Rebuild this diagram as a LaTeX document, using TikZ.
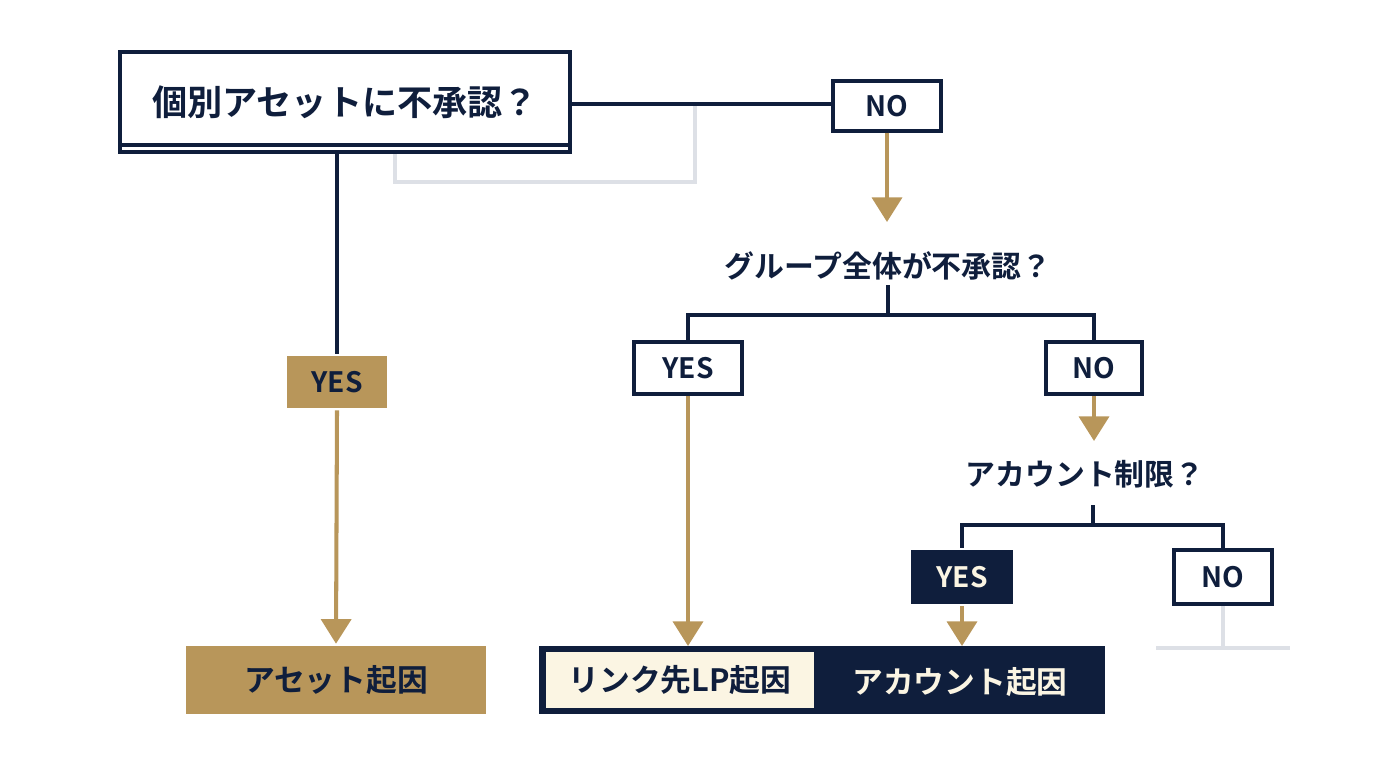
\documentclass[tikz,border=0pt]{standalone}
\usepackage{fontspec}
\setmainfont{Noto Sans CJK JP Bold}
\usetikzlibrary{arrows.meta}
\definecolor{navy}{HTML}{0F1E3C}
\definecolor{gold}{HTML}{B8965A}
\definecolor{cream}{HTML}{FBF5E3}
\definecolor{lgray}{HTML}{DDE0E6}
\begin{document}
\begin{tikzpicture}[x=0.02cm,y=-0.02cm,
	line width=2.3pt,
	tree/.style={draw=navy},
	flow/.style={draw=gold,-{Triangle[width=17pt,length=14pt]}},
	ghost/.style={draw=lgray},
	lbl/.style={inner sep=0,font=\fontsize{16}{16}\selectfont,text=navy},
	outbox/.style={lbl,draw=navy,fill=white,minimum height=28pt},
	question/.style={inner sep=0,font=\fontsize{17}{17}\selectfont,text=navy},
	result/.style={font=\fontsize{17.5}{17.5}\selectfont}]
	
	\useasboundingbox (0,0) rectangle (1376,768);
	
	% first question
	\node[outbox,minimum width=256pt,minimum height=57pt,font=\fontsize{20}{20}\selectfont] (q1) at (345,102) {個別アセットに不承認？};
	\draw[navy] (121,145) -- (569,145);
	\node[outbox,minimum width=62pt] (no1) at (887,106) {NO};
	\draw[tree] (q1.east |- 0,104) -- (no1.west |- 0,104);
	\draw[ghost] (395,154) -- (395,182) -- (695,182) -- (695,106);
	
	% yes branch
	\node[lbl,fill=gold,minimum width=57pt,minimum height=30pt] (yes1) at (337,382) {YES};
	\draw[tree] (q1.south -| yes1) -- (yes1.north);
	\node[lbl,result,fill=gold,minimum width=171pt,minimum height=39pt] (asset) at (336,680) {アセット起因};
	\draw[flow] (yes1.south) -- (asset.north);
	
	% second question
	\node[question] (q2) at (888,266) {グループ全体が不承認？};
	\draw[flow] (no1.south) -- (887,222);
	\node[outbox,minimum width=61pt,minimum height=30pt] (yes2) at (688,368) {YES};
	\node[outbox,minimum width=55pt,minimum height=30pt] (no2) at (1094,368) {NO};
	\draw[tree] (888,285) -- (888,315);
	\draw[tree] (yes2.north) -- (688,315) -- (1094,315) -- (no2.north);
	
	% third question
	\node[question] (q3) at (1085,474) {アカウント制限？};
	\draw[flow] (no2.south) -- (1094,441);
	\node[lbl,fill=navy,text=cream,minimum width=58pt,minimum height=31pt] (yes3) at (962,577) {YES};
	\node[outbox,minimum width=56pt,minimum height=31pt] (no3) at (1223,577) {NO};
	\draw[tree] (1093,505) -- (1093,525);
	\draw[tree] (yes3.north) -- (962,525) -- (1223,525) -- (no3.north);
	\draw[ghost] (no3.south) -- (1223,648);
	\draw[ghost] (1156,648) -- (1290,648);
	
	% results
	\node[lbl,fill=navy,minimum width=322pt,minimum height=39pt] (result) at (822,680) {};
	\node[lbl,result,fill=cream,minimum width=153pt,minimum height=32pt] (lp) at (680,680) {リンク先LP起因};
	\node[lbl,result,text=cream] (acct) at (960,682) {アカウント起因};
	\draw[flow] (yes2.south) -- (688,646);
	\draw[flow] (yes3.south) -- (962,646);
	
\end{tikzpicture}
\end{document}
